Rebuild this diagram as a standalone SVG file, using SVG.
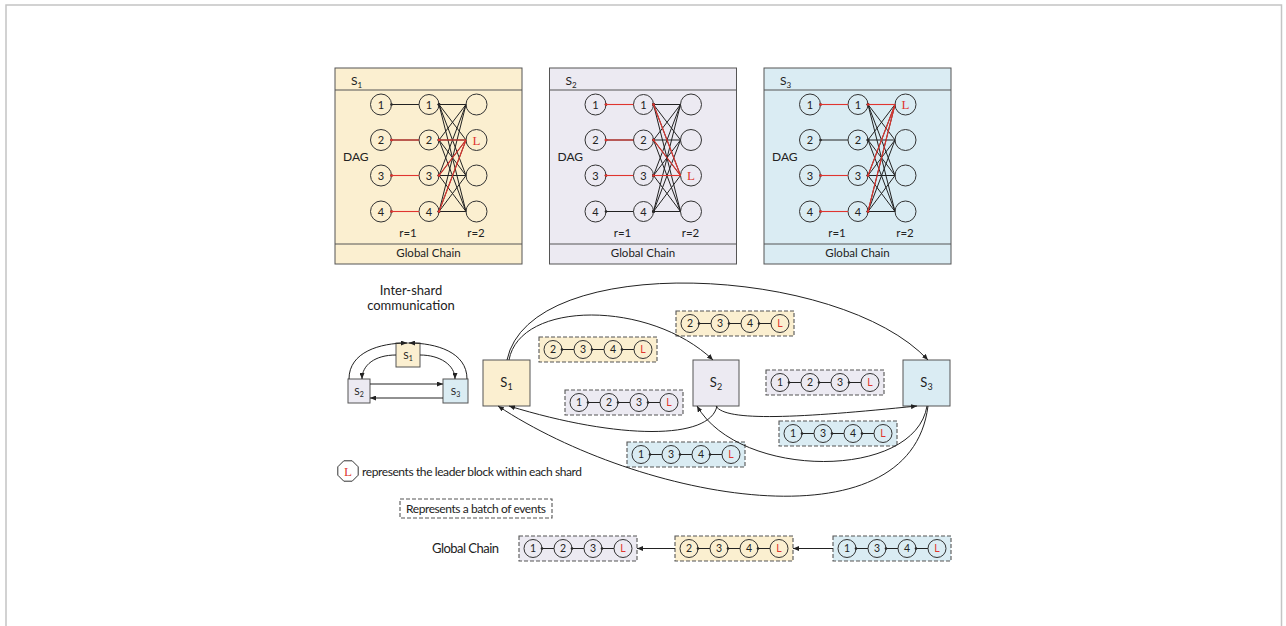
<svg xmlns="http://www.w3.org/2000/svg" width="1286" height="626" viewBox="0 0 1286 626">
  <style>
    text { font-family: Lato, "Liberation Sans", sans-serif; fill: #222; }
    .frame { stroke: #555; stroke-width: 1; }
    .rule { stroke: #555; stroke-width: 1; }
    .node { fill: none; stroke: #333; stroke-width: 1; }
    .num { font-size: 11px; text-anchor: middle; }
    .bnum { font-size: 10.5px; text-anchor: middle; }
    .lead { fill: #E0352F; font-family: "Liberation Serif", serif; font-size: 13px; text-anchor: middle; }
    .blead { fill: #E0352F; font-size: 10.5px; text-anchor: middle; }
    .ttl { font-size: 12px; }
    .sub { font-size: 8px; }
    .cap { font-size: 11.5px; text-anchor: middle; }
    .e { stroke: #222; stroke-width: 1; fill: none; marker-start: url(#dot); }
    .er { stroke: #E0352F; stroke-width: 1.1; fill: none; marker-start: url(#dotR); }
    .batch { stroke: #555; stroke-width: 1.1; stroke-dasharray: 4 2; }
    .link { stroke: #222; stroke-width: 1; fill: none; marker-end: url(#arr); }
    .y { fill: #FBEFD0; }
    .p { fill: #ECEAF2; }
    .b { fill: #DAECF3; }
  </style>
  <defs>
    <marker id="arr" markerUnits="userSpaceOnUse" markerWidth="6" markerHeight="5" refX="6" refY="2.5" orient="auto">
      <path d="M0,0 L6,2.5 L0,5 z" fill="#222"/>
    </marker>
    <marker id="dot" markerUnits="userSpaceOnUse" markerWidth="4" markerHeight="4" refX="2" refY="2">
      <circle cx="2" cy="2" r="1.3" fill="#222"/>
    </marker>
    <marker id="dotR" markerUnits="userSpaceOnUse" markerWidth="4" markerHeight="4" refX="2" refY="2">
      <circle cx="2" cy="2" r="1.3" fill="#E0352F"/>
    </marker>

    <!-- two-round DAG shared by every shard panel -->
    <g id="dag">
      <line class="e" x1="56.5" y1="36.5" x2="84" y2="36.5"/>
      <line class="e" x1="56.5" y1="72" x2="84" y2="72"/>
      <line class="e" x1="56.5" y1="107.5" x2="84" y2="107.5"/>
      <line class="e" x1="56.5" y1="143.5" x2="84" y2="143.5"/>
      <line class="e" x1="104" y1="36.5" x2="131" y2="36.5"/>
      <line class="e" x1="104" y1="36.5" x2="131" y2="72"/>
      <line class="e" x1="104" y1="36.5" x2="131" y2="107.5"/>
      <line class="e" x1="104" y1="36.5" x2="131" y2="143.5"/>
      <line class="e" x1="104" y1="72" x2="131" y2="36.5"/>
      <line class="e" x1="104" y1="72" x2="131" y2="72"/>
      <line class="e" x1="104" y1="72" x2="131" y2="107.5"/>
      <line class="e" x1="104" y1="72" x2="131" y2="143.5"/>
      <line class="e" x1="104" y1="107.5" x2="131" y2="36.5"/>
      <line class="e" x1="104" y1="107.5" x2="131" y2="72"/>
      <line class="e" x1="104" y1="107.5" x2="131" y2="107.5"/>
      <line class="e" x1="104" y1="107.5" x2="131" y2="143.5"/>
      <line class="e" x1="104" y1="143.5" x2="131" y2="36.5"/>
      <line class="e" x1="104" y1="143.5" x2="131" y2="72"/>
      <line class="e" x1="104" y1="143.5" x2="131" y2="107.5"/>
      <line class="e" x1="104" y1="143.5" x2="131" y2="143.5"/>
      <circle class="node" cx="46" cy="36.5" r="10.5"/>
      <circle class="node" cx="46" cy="72" r="10.5"/>
      <circle class="node" cx="46" cy="107.5" r="10.5"/>
      <circle class="node" cx="46" cy="143.5" r="10.5"/>
      <circle class="node" cx="94" cy="36.5" r="10"/>
      <circle class="node" cx="94" cy="72" r="10"/>
      <circle class="node" cx="94" cy="107.5" r="10"/>
      <circle class="node" cx="94" cy="143.5" r="10"/>
      <circle class="node" cx="141.5" cy="36.5" r="10.5"/>
      <circle class="node" cx="141.5" cy="72" r="10.5"/>
      <circle class="node" cx="141.5" cy="107.5" r="10.5"/>
      <circle class="node" cx="141.5" cy="143.5" r="10.5"/>
      <text class="num" x="46" y="40.5">1</text>
      <text class="num" x="46" y="76">2</text>
      <text class="num" x="46" y="111.5">3</text>
      <text class="num" x="46" y="147.5">4</text>
      <text class="num" x="94" y="40.5">1</text>
      <text class="num" x="94" y="76">2</text>
      <text class="num" x="94" y="111.5">3</text>
      <text class="num" x="94" y="147.5">4</text>
      <text x="8" y="93" font-size="12">DAG</text>
      <text class="cap" x="73" y="169">r=1</text>
      <text class="cap" x="141" y="169">r=2</text>
    </g>

    <!-- four-block batch: circles and back links -->
    <g id="batchLinks">
      <line class="e" x1="23" y1="12.5" x2="35" y2="12.5"/>
      <line class="e" x1="53" y1="12.5" x2="65" y2="12.5"/>
      <line class="e" x1="83" y1="12.5" x2="95" y2="12.5"/>
      <circle class="node" cx="14" cy="12.5" r="9"/>
      <circle class="node" cx="44" cy="12.5" r="9"/>
      <circle class="node" cx="74" cy="12.5" r="9"/>
      <circle class="node" cx="104" cy="12.5" r="9"/>
      <text class="blead" x="104" y="16.3">L</text>
    </g>
  </defs>

  <!-- page frame -->
  <rect x="6" y="5" width="1275.5" height="640" fill="none" stroke="#c4c4c4" stroke-width="1.5"/>

  <!-- shard panels -->
  <g id="shard-s1" transform="translate(335,68)">
    <rect class="frame y" width="187" height="196"/>
    <line class="rule" x1="0" y1="22" x2="187" y2="22"/>
    <line class="rule" x1="0" y1="176" x2="187" y2="176"/>
    <text class="ttl" x="16" y="17">S<tspan class="sub" dy="3">1</tspan></text>
    <use href="#dag"/>
    <line class="er" x1="56.5" y1="72" x2="84" y2="72"/>
    <line class="er" x1="56.5" y1="107.5" x2="84" y2="107.5"/>
    <line class="er" x1="56.5" y1="143.5" x2="84" y2="143.5"/>
    <line class="er" x1="104" y1="72" x2="131" y2="72"/>
    <line class="er" x1="104" y1="107.5" x2="131" y2="72"/>
    <line class="er" x1="104" y1="143.5" x2="131" y2="72"/>
    <text class="lead" x="141.5" y="76.5">L</text>
    <text class="cap" x="93.5" y="189">Global Chain</text>
  </g>

  <g id="shard-s2" transform="translate(549.5,68)">
    <rect class="frame p" width="187" height="196"/>
    <line class="rule" x1="0" y1="22" x2="187" y2="22"/>
    <line class="rule" x1="0" y1="176" x2="187" y2="176"/>
    <text class="ttl" x="16" y="17">S<tspan class="sub" dy="3">2</tspan></text>
    <use href="#dag"/>
    <line class="er" x1="56.5" y1="36.5" x2="84" y2="36.5"/>
    <line class="er" x1="56.5" y1="72" x2="84" y2="72"/>
    <line class="er" x1="56.5" y1="107.5" x2="84" y2="107.5"/>
    <line class="er" x1="104" y1="36.5" x2="131" y2="107.5"/>
    <line class="er" x1="104" y1="72" x2="131" y2="107.5"/>
    <line class="er" x1="104" y1="107.5" x2="131" y2="107.5"/>
    <text class="lead" x="141.5" y="112">L</text>
    <text class="cap" x="93.5" y="189">Global Chain</text>
  </g>

  <g id="shard-s3" transform="translate(764,68)">
    <rect class="frame b" width="187" height="196"/>
    <line class="rule" x1="0" y1="22" x2="187" y2="22"/>
    <line class="rule" x1="0" y1="176" x2="187" y2="176"/>
    <text class="ttl" x="16" y="17">S<tspan class="sub" dy="3">3</tspan></text>
    <use href="#dag"/>
    <line class="er" x1="56.5" y1="36.5" x2="84" y2="36.5"/>
    <line class="er" x1="56.5" y1="107.5" x2="84" y2="107.5"/>
    <line class="er" x1="56.5" y1="143.5" x2="84" y2="143.5"/>
    <line class="er" x1="104" y1="36.5" x2="131" y2="36.5"/>
    <line class="er" x1="104" y1="107.5" x2="131" y2="36.5"/>
    <line class="er" x1="104" y1="143.5" x2="131" y2="36.5"/>
    <text class="lead" x="141.5" y="41">L</text>
    <text class="cap" x="93.5" y="189">Global Chain</text>
  </g>

  <!-- inter-shard communication overview -->
  <g id="overview-title">
    <text x="411" y="295" font-size="13" text-anchor="middle">Inter-shard</text>
    <text x="411" y="310" font-size="13" text-anchor="middle">communication</text>
  </g>
  <g id="mini-s1">
    <rect class="frame y" x="396" y="343" width="24" height="24"/>
    <text x="408" y="358.5" font-size="10" text-anchor="middle">S<tspan font-size="7" dy="2">1</tspan></text>
  </g>
  <g id="mini-s2">
    <rect class="frame p" x="348" y="379" width="22" height="24"/>
    <text x="359" y="394.5" font-size="10" text-anchor="middle">S<tspan font-size="7" dy="2">2</tspan></text>
  </g>
  <g id="mini-s3">
    <rect class="frame b" x="443" y="379" width="25" height="24"/>
    <text x="455.5" y="394.5" font-size="10" text-anchor="middle">S<tspan font-size="7" dy="2">3</tspan></text>
  </g>

  <!-- main shard nodes -->
  <g id="node-s1">
    <rect class="frame y" x="483" y="360" width="47" height="46"/>
    <text x="506.5" y="387" font-size="13" text-anchor="middle">S<tspan font-size="9" dy="3">1</tspan></text>
  </g>
  <g id="node-s2">
    <rect class="frame p" x="693" y="360" width="46" height="46"/>
    <text x="716" y="387" font-size="13" text-anchor="middle">S<tspan font-size="9" dy="3">2</tspan></text>
  </g>
  <g id="node-s3">
    <rect class="frame b" x="903" y="360" width="47" height="46"/>
    <text x="926.5" y="387" font-size="13" text-anchor="middle">S<tspan font-size="9" dy="3">3</tspan></text>
  </g>

  <!-- event batches in flight -->
  <g id="batch-s1-a" transform="translate(539,337)">
    <rect class="batch y" width="118" height="25"/>
    <use href="#batchLinks"/>
    <text class="bnum" x="14" y="16.3">2</text><text class="bnum" x="44" y="16.3">3</text><text class="bnum" x="74" y="16.3">4</text>
  </g>
  <g id="batch-s1-b" transform="translate(676,311)">
    <rect class="batch y" width="118" height="25"/>
    <use href="#batchLinks"/>
    <text class="bnum" x="14" y="16.3">2</text><text class="bnum" x="44" y="16.3">3</text><text class="bnum" x="74" y="16.3">4</text>
  </g>
  <g id="batch-s2-a" transform="translate(565,390)">
    <rect class="batch p" width="118" height="25"/>
    <use href="#batchLinks"/>
    <text class="bnum" x="14" y="16.3">1</text><text class="bnum" x="44" y="16.3">2</text><text class="bnum" x="74" y="16.3">3</text>
  </g>
  <g id="batch-s2-b" transform="translate(766,370)">
    <rect class="batch p" width="118" height="25"/>
    <use href="#batchLinks"/>
    <text class="bnum" x="14" y="16.3">1</text><text class="bnum" x="44" y="16.3">2</text><text class="bnum" x="74" y="16.3">3</text>
  </g>
  <g id="batch-s3-a" transform="translate(779,421)">
    <rect class="batch b" width="118" height="25"/>
    <use href="#batchLinks"/>
    <text class="bnum" x="14" y="16.3">1</text><text class="bnum" x="44" y="16.3">3</text><text class="bnum" x="74" y="16.3">4</text>
  </g>
  <g id="batch-s3-b" transform="translate(627,442)">
    <rect class="batch b" width="118" height="25"/>
    <use href="#batchLinks"/>
    <text class="bnum" x="14" y="16.3">1</text><text class="bnum" x="44" y="16.3">3</text><text class="bnum" x="74" y="16.3">4</text>
  </g>

  <!-- legend -->
  <g id="legend-leader">
    <polygon class="node" points="358.2,475.2 352.2,481.2 343.8,481.2 337.8,475.2 337.8,466.8 343.8,460.8 352.2,460.8 358.2,466.8"/>
    <text class="lead" x="348" y="475.5" font-size="12">L</text>
    <text x="362" y="476" font-size="12" textLength="220">represents the leader block within each shard</text>
  </g>
  <g id="legend-batch">
    <rect class="batch" x="400" y="499" width="152" height="19" fill="none"/>
    <text x="406" y="513" font-size="12" textLength="140">Represents a batch of events</text>
  </g>

  <!-- global chain -->
  <g id="global-chain-label">
    <text x="432" y="553" font-size="13" textLength="67">Global Chain</text>
  </g>
  <g id="chain-s2" transform="translate(519,536)">
    <rect class="batch p" width="118" height="25"/>
    <use href="#batchLinks"/>
    <text class="bnum" x="14" y="16.3">1</text><text class="bnum" x="44" y="16.3">2</text><text class="bnum" x="74" y="16.3">3</text>
  </g>
  <g id="chain-s1" transform="translate(675,536)">
    <rect class="batch y" width="118" height="25"/>
    <use href="#batchLinks"/>
    <text class="bnum" x="14" y="16.3">2</text><text class="bnum" x="44" y="16.3">3</text><text class="bnum" x="74" y="16.3">4</text>
  </g>
  <g id="chain-s3" transform="translate(833,536)">
    <rect class="batch b" width="118" height="25"/>
    <use href="#batchLinks"/>
    <text class="bnum" x="14" y="16.3">1</text><text class="bnum" x="44" y="16.3">3</text><text class="bnum" x="74" y="16.3">4</text>
  </g>

  <!-- connectors -->
  <g id="connectors">
    <path class="link" d="M349 379 C349 352 380 343 407 343"/>
    <path class="link" d="M467 379 C467 352 436 343 409 343"/>
    <path class="link" d="M396 355 C375 355 362 365 362 379"/>
    <path class="link" d="M420 355 C440 355 455 365 455 379"/>
    <path class="link" d="M370 384 L443 384"/>
    <path class="link" d="M443 398 L370 398"/>

    <path class="link" d="M507 360 C530 250 840 265 928 360"/>
    <path class="link" d="M509 360 C520 300 650 300 713 360"/>
    <path class="link" d="M717 406 C710 440 620 440 509 406"/>
    <path class="link" d="M716 406 C725 422 800 418 917 406"/>
    <path class="link" d="M927 406 C915 480 740 480 697 406"/>
    <path class="link" d="M928 406 C910 550 640 500 498 406"/>

    <path class="link" d="M675 548.5 L637 548.5"/>
    <path class="link" d="M833 548.5 L793 548.5"/>
  </g>
</svg>
